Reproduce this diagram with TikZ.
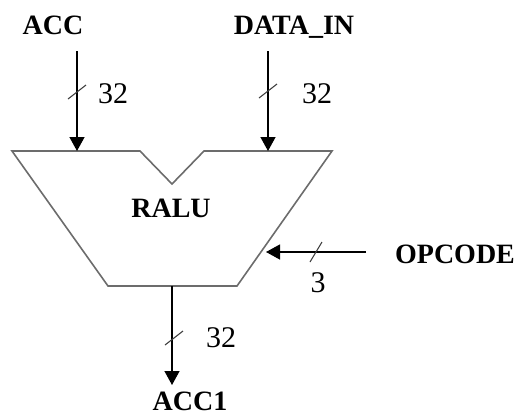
\documentclass[tikz,border=0pt]{standalone}
\usepackage{fontspec}
\setmainfont{Liberation Serif}
\usetikzlibrary{arrows.meta,positioning,calc}

\begin{document}
\begin{tikzpicture}[
  x=1pt, y=-1pt,
  sig/.style={font=\fontsize{28}{30}\selectfont\bfseries, inner sep=0pt, anchor=base},
  wid/.style={font=\fontsize{30}{32}\selectfont, inner sep=0pt, anchor=base},
  arr/.style={-{Triangle[length=14pt,width=15pt]}, line width=1.3pt},
  bus/.style={draw=gray!50!black, line width=1.1pt},
  alu/.style={draw=gray!85!black, line width=1.6pt, line join=miter}
]
\useasboundingbox (0,0) rectangle (517,416);

% ALU outline
\coordinate (tl) at (12,151);
\coordinate (nl) at (140,151);
\coordinate (nv) at (172,184);
\coordinate (nr) at (204,151);
\coordinate (tr) at (332,151);
\coordinate (br) at (237,286);
\coordinate (bl) at (108,286);
\draw[alu] (tl) -- (nl) -- (nv) -- (nr) -- (tr) -- (br) -- (bl) -- cycle;
\node[sig] (ralu) at (171,217) {RALU};

% inputs
\node[sig] (acc) at (53,34) {ACC};
\node[sig] (din) at (294,34) {DATA\_IN};
\coordinate (accsrc) at (77,51);
\coordinate (accin) at (77,151);
\coordinate (dinsrc) at (268,51);
\coordinate (dinin) at (268,151);
\draw[arr] (accsrc) -- (accin);
\draw[arr] (dinsrc) -- (dinin);
\draw[bus] (77,92) ++(-9,7) -- ++(18,-14);
\draw[bus] (268,91) ++(-9,7) -- ++(18,-14);
\node[wid] (accw) at (113,103) {32};
\node[wid] (dinw) at (317,103) {32};

% opcode
\node[sig] (opc) at (455,263) {OPCODE};
\coordinate (opcsrc) at (366,252);
\coordinate (opcin) at (266,252);
\draw[arr] (opcsrc) -- (opcin);
\draw[bus] (316,252) ++(-6,10) -- ++(12,-20);
\node[wid] (opcw) at (318,292) {3};

% output
\coordinate (outsrc) at (172,286);
\coordinate (outend) at (172,385);
\draw[arr] (outsrc) -- (outend);
\draw[bus] (174,338) ++(-9,7) -- ++(18,-14);
\node[wid] (outw) at (221,347) {32};
\node[sig] (acc1) at (190,410) {ACC1};
\end{tikzpicture}
\end{document}
